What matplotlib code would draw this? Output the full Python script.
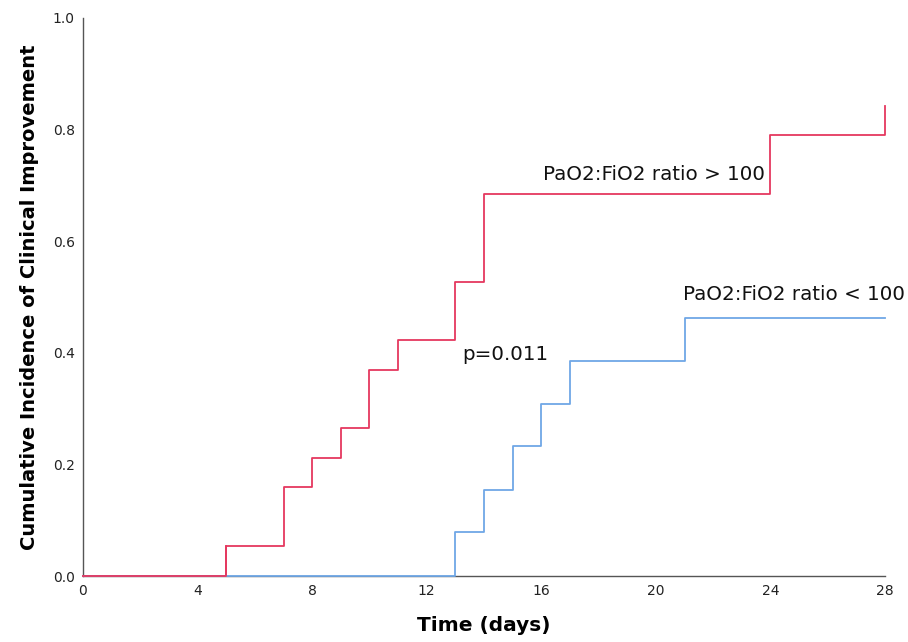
import matplotlib
matplotlib.use('Agg')
import matplotlib.pyplot as plt

# cumulative incidence (steps-post)
high_days = [0, 5, 7, 8, 9, 10, 11, 13, 14, 24, 28]
high_cum = [0.0, 0.054, 0.160, 0.211, 0.265, 0.369, 0.423, 0.527, 0.685, 0.790, 0.842]

low_days = [0, 13, 14, 15, 16, 17, 21, 28]
low_cum = [0.0, 0.079, 0.154, 0.233, 0.308, 0.385, 0.462, 0.462]

xticks = [0, 4, 8, 12, 16, 20, 24, 28]
yticks = [0.0, 0.2, 0.4, 0.6, 0.8, 1.0]

red = '#e5385f'
blue = '#6fa7e6'

fig = plt.figure(figsize=(9.08, 6.42), dpi=100)
ax = fig.add_axes([0.0914, 0.1028, 0.8833, 0.8692])

for s in ['top', 'right']:
    ax.spines[s].set_visible(False)
for s in ['left', 'bottom']:
    ax.spines[s].set_color('#555555')
    ax.spines[s].set_linewidth(1.0)

ax.plot(high_days, high_cum, drawstyle='steps-post', color=red, lw=1.3,
        clip_on=False, zorder=3)
ax.plot(low_days, low_cum, drawstyle='steps-post', color=blue, lw=1.3,
        clip_on=False, zorder=3)
# red stays on top before the first event
ax.plot(high_days[:2], high_cum[:2], drawstyle='steps-post', color=red, lw=1.3,
        clip_on=False, zorder=4)

ax.set_xlim(0, 28)
ax.set_ylim(0, 1.0)
ax.set_xticks(xticks)
ax.set_yticks(yticks)
ax.set_yticklabels(['%.1f' % v for v in yticks])
ax.tick_params(length=0, labelsize=10, colors='#222222', pad=6)

ax.set_xlabel('Time (days)', fontsize=14.5, fontweight='bold', labelpad=13)
ax.set_ylabel('Cumulative Incidence of Clinical Improvement', fontsize=14,
              fontweight='bold', labelpad=10)

ax.text(23.8, 0.71, 'PaO2:FiO2 ratio > 100', fontsize=14.3, ha='right', va='baseline',
        color='#111111')
ax.text(28.7, 0.495, 'PaO2:FiO2 ratio < 100', fontsize=14.3, ha='right', va='baseline',
        color='#111111')
ax.text(13.23, 0.387, 'p=0.011', fontsize=14.3, ha='left', va='baseline', color='#111111')

fig.savefig('out.png', dpi=100)
